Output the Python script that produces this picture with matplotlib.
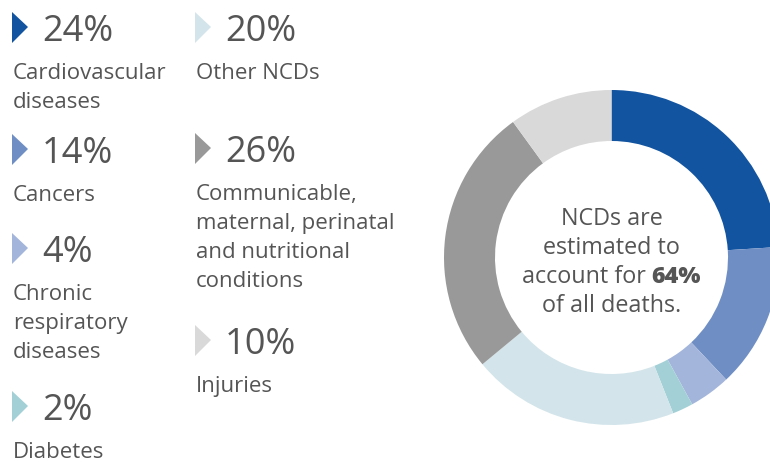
import matplotlib.pyplot as plt
from matplotlib.patches import Polygon

# data
categories = ["Cardiovascular\ndiseases", "Cancers", "Chronic\nrespiratory\ndiseases",
              "Diabetes", "Other NCDs",
              "Communicable,\nmaternal, perinatal\nand nutritional\nconditions", "Injuries"]
shares = [24, 14, 4, 2, 20, 26, 10]
colors = ["#1254a0", "#6f8fc4", "#a3b5da", "#a2d0d6", "#d3e5ea", "#999999", "#d9d9d9"]
ncd_share = 64

W, H = 770, 462
text_col = "#555555"
font = "Open Sans"
lab_size = 16
mid_size = 16.8
line_step = 29

fig = plt.figure(figsize=(W / 100, H / 100), dpi=100)
ax = fig.add_axes([0, 0, 1, 1])
ax.set_xlim(0, W)
ax.set_ylim(H, 0)
ax.axis("off")

# legend blocks: (column x, baseline of the percentage)
spots = [(12, 41), (12, 163), (12, 262), (12, 420), (195, 41), (195, 162), (195, 354)]
for (x0, y0), cat, val, col in zip(spots, categories, shares, colors):
    ax.add_patch(Polygon([[x0, y0 - 29], [x0 + 16, y0 - 14], [x0, y0 + 2]],
                         closed=True, color=col, lw=0))
    ax.text(x0 + 30, y0, f"{val}%", fontsize=26, color=text_col, family=font,
            va="baseline", ha="left")
    for i, line in enumerate(cat.split("\n")):
        ax.text(x0 + 1, y0 + 38 + i * line_step, line, fontsize=lab_size,
                color=text_col, family=font, va="baseline", ha="left")

# donut
cx, cy, r = 611.5, 257.5, 167.5
pax = fig.add_axes([(cx - r) / W, (H - cy - r) / H, 2 * r / W, 2 * r / H])
pax.pie(shares, colors=colors, startangle=90, counterclock=False,
        wedgeprops=dict(width=1 - 116.5 / 167.5, linewidth=0))
pax.set_xlim(-1, 1)
pax.set_ylim(-1, 1)
pax.set_aspect("equal")
for p in pax.patches:
    p.set_clip_on(False)

# centre text
ax.text(cx, 225, "NCDs are", fontsize=mid_size, color=text_col, family=font,
        ha="center", va="baseline")
ax.text(cx, 254, "estimated to", fontsize=mid_size, color=text_col, family=font,
        ha="center", va="baseline")
ax.text(cx, 312, "of all deaths.", fontsize=mid_size, color=text_col, family=font,
        ha="center", va="baseline")

r_ = fig.canvas.get_renderer()
t1 = ax.text(0, 283, "account for ", fontsize=mid_size, color=text_col, family=font,
             ha="left", va="baseline")
t2 = ax.text(0, 283, f"{ncd_share}%", fontsize=mid_size, color=text_col, family=font,
             weight="heavy", ha="left", va="baseline")
w1 = t1.get_window_extent(r_).width
w2 = t2.get_window_extent(r_).width
start = cx - (w1 + w2) / 2
t1.set_x(start)
t2.set_x(start + w1)

fig.savefig("out.png", dpi=100)
